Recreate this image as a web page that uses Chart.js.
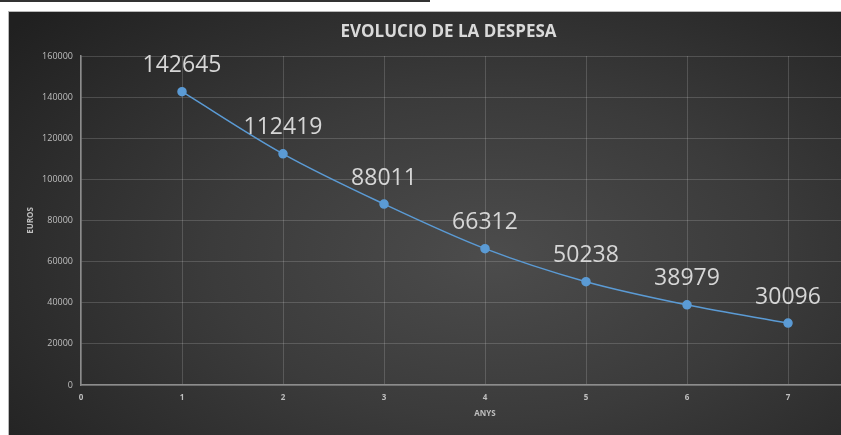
<!DOCTYPE html>
<html>
<head>
<meta charset="utf-8">
<script src="https://cdn.jsdelivr.net/npm/chart.js@4.4.1/dist/chart.umd.min.js"></script>
<style>
  html, body { margin: 0; padding: 0; background: #fff; width: 841px; height: 435px; overflow: hidden; }
  #topline { position: absolute; left: 0; top: 0; width: 430px; height: 2px; background: #333; }
  #panel {
    position: absolute; left: 8px; top: 11px; width: 833px; height: 424px; overflow: hidden;
    border-top: 1px solid #b8b8b8; border-left: 1px solid #b8b8b8; box-sizing: border-box;
    background: radial-gradient(ellipse 75% 85% at 58% 58%, #4c4c4c 0%, #3b3b3b 45%, #202020 100%);
  }
  #chart { position: absolute; left: -1px; top: -1px; }
</style>
</head>
<body>
<div id="topline"></div>
<div id="panel"><canvas id="chart" width="895" height="424"></canvas></div>
<script>
const years = [1, 2, 3, 4, 5, 6, 7];
const despesa = [142645, 112419, 88011, 66312, 50238, 38979, 30096];
const yTicks = [0, 20000, 40000, 60000, 80000, 100000, 120000, 140000, 160000];
const xTicks = [0, 1, 2, 3, 4, 5, 6, 7, 8];

const FONT = "'Open Sans', 'DejaVu Sans', sans-serif";

// value labels above each point
const pointLabels = {
  id: "pointLabels",
  afterDatasetsDraw(chart) {
    const ctx = chart.ctx;
    const meta = chart.getDatasetMeta(0);
    ctx.save();
    ctx.font = "23px " + FONT;
    ctx.fillStyle = "#d6d6d6";
    ctx.textAlign = "center";
    ctx.textBaseline = "middle";
    meta.data.forEach((pt, i) => {
      ctx.fillText(String(despesa[i]), pt.x, pt.y - 26);
    });
    ctx.restore();
  },
};

new Chart(document.getElementById("chart"), {
  type: "line",
  data: {
    datasets: [
      {
        data: years.map((x, i) => ({ x, y: despesa[i] })),
        borderColor: "#5b9bd5",
        backgroundColor: "#5b9bd5",
        borderWidth: 1.5,
        pointRadius: 4,
        pointHoverRadius: 4,
        cubicInterpolationMode: "monotone",
      },
    ],
  },
  options: {
    responsive: false,
    animation: false,
    layout: { padding: { left: 0, right: 14, top: 0, bottom: 0 } },
    plugins: {
      legend: { display: false },
      tooltip: { enabled: false },
      title: {
        display: true,
        text: "EVOLUCIO DE LA DESPESA",
        color: "#d9d9d9",
        font: { family: FONT, size: 17, weight: "bold" },
        padding: { top: 11, bottom: 13.6 },
      },
    },
    scales: {
      x: {
        type: "linear",
        min: 0,
        max: 8,
        afterBuildTicks: (s) => { s.ticks = xTicks.map((v) => ({ value: v })); },
        afterFit: (s) => { s.height = 50; },
        ticks: { color: "#bfbfbf", padding: 8, font: { family: FONT, size: 8, weight: "bold" } },
        grid: { color: "rgba(255,255,255,0.16)", drawTicks: false },
        border: { color: "#8c8c8c", width: 1.5 },
        title: {
          display: true,
          text: "ANYS",
          color: "#bfbfbf",
          font: { family: FONT, size: 8, weight: "bold" },
          padding: { top: 0, bottom: 16 },
        },
      },
      y: {
        min: 0,
        max: 160000,
        afterBuildTicks: (s) => { s.ticks = yTicks.map((v) => ({ value: v })); },
        afterFit: (s) => { s.width = 73; },
        ticks: {
          color: "#bfbfbf",
          padding: 8,
          font: { family: FONT, size: 9 },
          callback: (v) => String(v),
        },
        grid: { color: "rgba(255,255,255,0.16)", drawTicks: false },
        border: { color: "#8c8c8c", width: 1.5 },
        title: {
          display: true,
          text: "EUROS",
          color: "#bfbfbf",
          font: { family: FONT, size: 8, weight: "bold" },
          padding: { top: 18, bottom: 0 },
        },
      },
    },
  },
  plugins: [pointLabels],
});
</script>
</body>
</html>
